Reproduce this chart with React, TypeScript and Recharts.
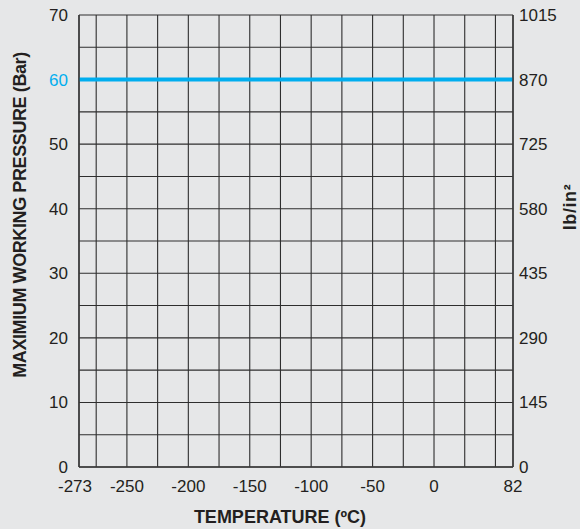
import React from "react";
import { CartesianGrid, Label, Line, LineChart, XAxis, YAxis } from "recharts";

// temperature (ºC): labelled ticks and 25º grid steps
const tempLabels = [-273, -250, -200, -150, -100, -50, 0, 82];
const tempGrid = [-275, -250, -225, -200, -175, -150, -125, -100, -75, -50, -25, 0, 25, 50];
// pressure (Bar) and lb/in² ticks
const barTicks = [0, 10, 20, 30, 40, 50, 60, 70];
const barGrid = [0, 5, 10, 15, 20, 25, 30, 35, 40, 45, 50, 55, 60, 65, 70];
const psiTicks = [0, 145, 290, 435, 580, 725, 870, 1015];
// rated pressure over the full temperature range
const ratedTemps = [-273, 82];
const ratedBar = [60, 60];
const ratedPsi = [870, 870];

// the drawn axis is squeezed at both ends: -273 and 82 sit at the frame edges
const axisEnds: Record<number, number> = { [-273]: -289, 82: 64.3 };
const toAxis = (t: number) => (axisEnds[t] !== undefined ? axisEnds[t] : t);
const fromAxis = (v: number) => {
  const hit = Object.keys(axisEnds).find((k) => axisEnds[Number(k)] === v);
  return hit !== undefined ? Number(hit) : v;
};

const xTicks = [toAxis(-273), ...tempGrid, toAxis(82)];
const data = ratedTemps.map((t, i) => ({ x: toAxis(t), bar: ratedBar[i], psi: ratedPsi[i] }));

const INK = "#231f20";
const BLUE = "#00aeef";
const FONT = "'Liberation Sans', Arial, sans-serif";

const XTick = (props: any) => {
  const { x, y, payload } = props;
  const t = fromAxis(payload.value);
  if (!tempLabels.includes(t)) return null;
  const dx = t === -273 ? -4 : 0;
  return (
    <text x={x + dx} y={y + 25} textAnchor="middle" fill={INK} fontSize={17} fontFamily={FONT}>
      {String(t)}
    </text>
  );
};

const LeftTick = (props: any) => {
  const { x, y, payload } = props;
  if (!barTicks.includes(payload.value)) return null;
  return (
    <text x={x} y={y + 6} textAnchor="end" fill={payload.value === 60 ? BLUE : INK} fontSize={17} fontFamily={FONT}>
      {payload.value}
    </text>
  );
};

const RightTick = (props: any) => {
  const { x, y, payload } = props;
  return (
    <text x={x} y={y + 6} textAnchor="start" fill={INK} fontSize={17} fontFamily={FONT}>
      {payload.value}
    </text>
  );
};

export default function App() {
  return (
    <div style={{ position: "absolute", left: 0, top: 0, width: 580, height: 529, background: "#e6e7e8" }}>
      <LineChart width={580} height={529} data={data} margin={{ top: 15, right: 17, bottom: 22, left: 29 }}>
        <CartesianGrid yAxisId="left" stroke="#2e2e2e" strokeWidth={1.1} />
        <XAxis
          dataKey="x"
          type="number"
          domain={[toAxis(-273), toAxis(82)]}
          ticks={xTicks}
          interval={0}
          height={40}
          tickLine={false}
          tickSize={0}
          tickMargin={0}
          tick={<XTick />}
          axisLine={{ stroke: "#3a3a3a", strokeWidth: 1.5 }}
        >
          <Label
            content={() => (
              <text x={280} y={523} textAnchor="middle" fill={INK} fontSize={18} fontWeight="bold" fontFamily={FONT}>
                TEMPERATURE (ºC)
              </text>
            )}
          />
        </XAxis>
        <YAxis
          yAxisId="left"
          domain={[0, 70]}
          ticks={barGrid}
          interval={0}
          width={50}
          tickLine={false}
          tickSize={0}
          tickMargin={11}
          tick={<LeftTick />}
          axisLine={{ stroke: "#3a3a3a", strokeWidth: 1.5 }}
        >
          <Label
            content={() => (
              <text
                x={26}
                y={215}
                transform="rotate(-90 26 215)"
                textAnchor="middle"
                fill={INK}
                fontSize={18}
                letterSpacing={-0.4}
                fontWeight="bold"
                fontFamily={FONT}
              >
                MAXIMIUM WORKING PRESSURE (Bar)
              </text>
            )}
          />
        </YAxis>
        <YAxis
          yAxisId="right"
          orientation="right"
          domain={[0, 1015]}
          ticks={psiTicks}
          interval={0}
          width={50}
          tickLine={false}
          tickSize={0}
          tickMargin={6}
          tick={<RightTick />}
          axisLine={{ stroke: "#3a3a3a", strokeWidth: 1.5 }}
        >
          <Label
            content={() => (
              <text
                x={576}
                y={207}
                transform="rotate(-90 576 207)"
                textAnchor="middle"
                fill={INK}
                fontSize={18}
                letterSpacing={0.6}
                fontWeight="bold"
                fontFamily={FONT}
              >
                lb/in²
              </text>
            )}
          />
        </YAxis>
        <Line
          yAxisId="right"
          dataKey="psi"
          type="linear"
          stroke="none"
          dot={false}
          legendType="none"
          isAnimationActive={false}
        />
        <Line
          yAxisId="left"
          dataKey="bar"
          type="linear"
          stroke={BLUE}
          strokeWidth={4}
          dot={false}
          isAnimationActive={false}
        />
      </LineChart>
    </div>
  );
}
